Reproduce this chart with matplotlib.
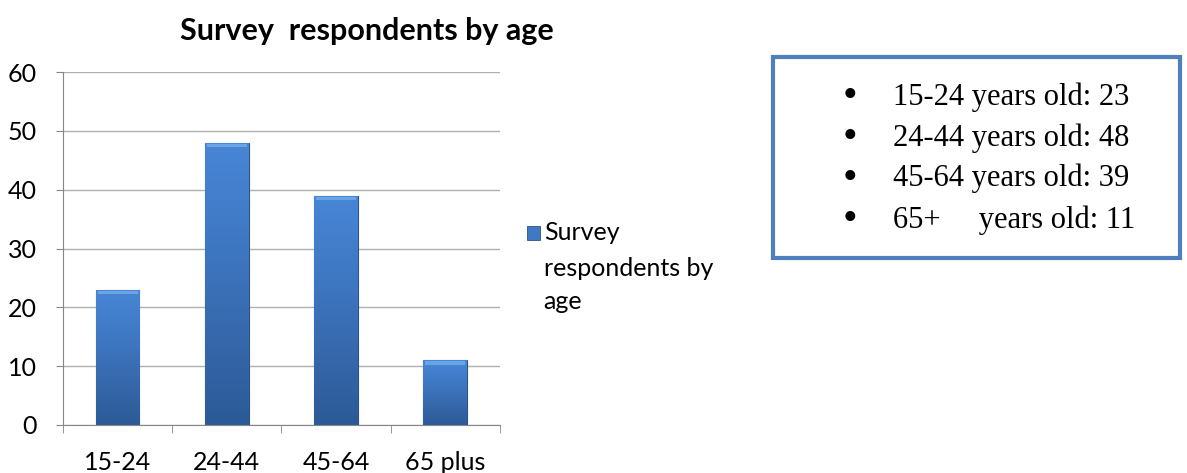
import matplotlib.pyplot as plt
import numpy as np
from matplotlib.colors import LinearSegmentedColormap
from matplotlib.patches import Rectangle

age_groups = ['15-24', '24-44', '45-64', '65 plus']
respondents = [23, 48, 39, 11]
summary_groups = ['15-24 ', '24-44 ', '45-64 ', '65+     ']
y_ticks = [0, 10, 20, 30, 40, 50, 60]

plt.rcParams['font.family'] = ['Lato', 'DejaVu Sans']
serif = ['Liberation Serif', 'DejaVu Serif']

fig = plt.figure(figsize=(11.87, 4.73), dpi=100)
ax = fig.add_axes([0.0531, 0.1015, 0.368, 0.746])

# bars: plain fill first, then a shaded gradient clipped to each bar
bar_cmap = LinearSegmentedColormap.from_list(
    'bar', ['#2c5a96', '#3769ad', '#3f79c4', '#4886d6'])
bars = ax.bar(range(len(age_groups)), respondents, width=0.4,
              color='#3b72bb', edgecolor='#2b5488', linewidth=0.8, zorder=2)
grad = np.linspace(0, 1, 256).reshape(-1, 1)
for b in bars:
    x0, w, h = b.get_x(), b.get_width(), b.get_height()
    img = ax.imshow(grad, cmap=bar_cmap, aspect='auto', origin='lower',
                    extent=(x0, x0 + w, 0, h), zorder=2.1)
    img.set_clip_path(b)
    # light bevel on the top edge
    ax.add_patch(Rectangle((x0 + w * 0.04, h - 0.8), w * 0.92, 0.65,
                           color='#6aa4e6', lw=0, zorder=2.2))

ax.set_xlim(-0.5, 3.5)
ax.set_ylim(0, 60)
ax.set_yticks(y_ticks)
ax.yaxis.grid(True, color='#b0b0b0', linewidth=1)
ax.set_axisbelow(True)
for s in ['top', 'right']:
    ax.spines[s].set_visible(False)
for s in ['left', 'bottom']:
    ax.spines[s].set_color('#868686')

ax.set_xticks(range(len(age_groups)))
ax.set_xticklabels(age_groups)
ax.set_xticks(np.arange(-0.5, 3.6, 1.0), minor=True)
ax.tick_params(axis='x', which='major', length=0, pad=19, labelsize=18)
ax.tick_params(axis='x', which='minor', length=6, color='#868686', direction='out')
ax.tick_params(axis='y', length=5, color='#868686', pad=14, labelsize=18)

fig.text(0.309, 0.935, 'Survey  respondents by age', ha='center', va='center',
         fontsize=22, fontweight='bold')

# legend entry
fig.patches.append(Rectangle((0.444, 0.493), 0.011, 0.029, transform=fig.transFigure,
                             facecolor='#3f79c4', edgecolor='#2b5488', lw=0.6))
fig.text(0.458, 0.508, 'Survey', ha='left', va='center', fontsize=18)
fig.text(0.458, 0.433, 'respondents by', ha='left', va='center', fontsize=18)
fig.text(0.458, 0.362, 'age', ha='left', va='center', fontsize=18)

# summary box
fig.patches.append(Rectangle((0.6515, 0.455), 0.343, 0.425, transform=fig.transFigure,
                             facecolor='white', edgecolor='#4f7fbd', lw=3))
row_y = [0.795, 0.708, 0.623, 0.535]
for yy, grp, val in zip(row_y, summary_groups, respondents):
    fig.text(0.716, yy, '\u2022', ha='center', va='center', fontsize=30, family=serif)
    fig.text(0.7525, yy, f'{grp}years old: {val}', ha='left', va='center',
             fontsize=22, family=serif)

fig.savefig('out.png', dpi=100)
